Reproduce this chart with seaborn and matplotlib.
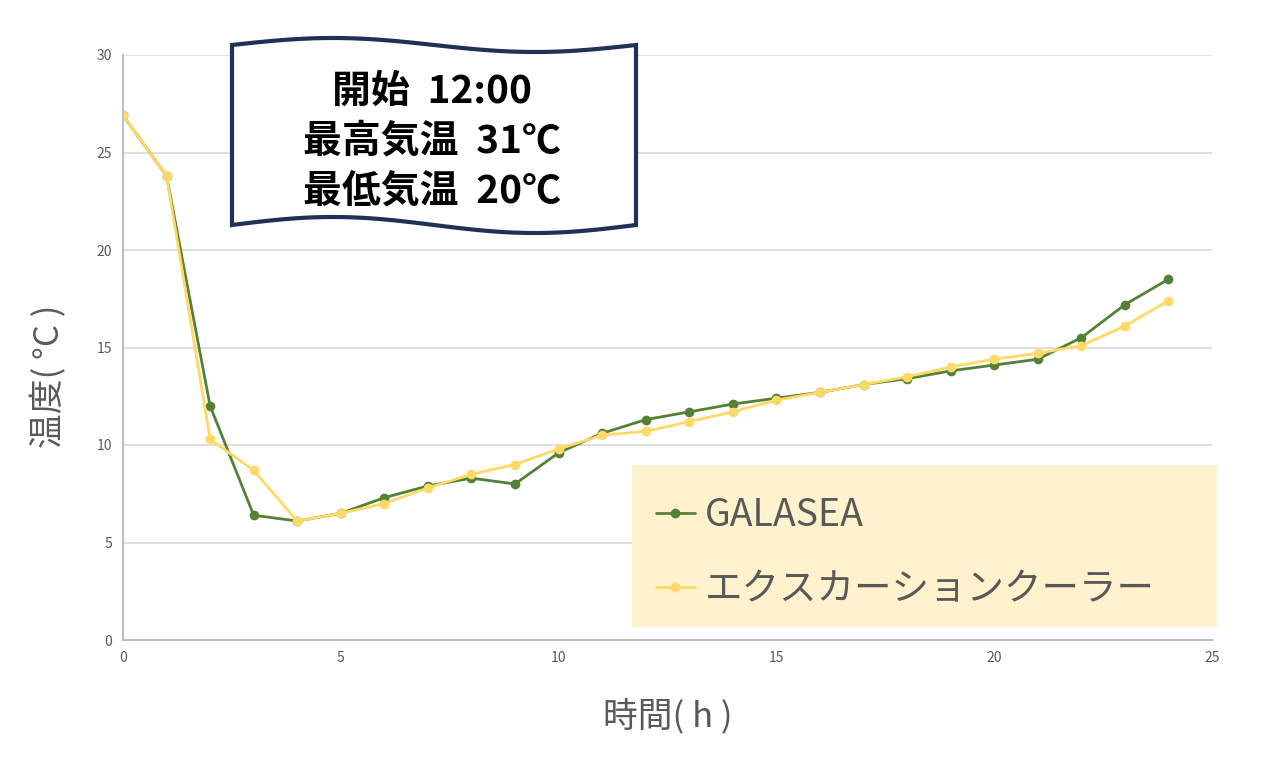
import numpy as np
import pandas as pd
import matplotlib
matplotlib.use('Agg')
import matplotlib.pyplot as plt
from matplotlib.patches import Polygon, Rectangle
import seaborn as sns

# data
hours = list(range(0, 25))
galasea = [26.9, 23.8, 12.0, 6.4, 6.1, 6.5, 7.3, 7.9, 8.3, 8.0, 9.6, 10.6, 11.3,
           11.7, 12.1, 12.4, 12.7, 13.1, 13.4, 13.8, 14.1, 14.4, 15.5, 17.2, 18.5]
cooler = [26.9, 23.8, 10.3, 8.7, 6.1, 6.5, 7.0, 7.8, 8.5, 9.0, 9.8, 10.5, 10.7,
          11.2, 11.7, 12.3, 12.7, 13.1, 13.5, 14.0, 14.4, 14.7, 15.1, 16.1, 17.4]
series_names = ['GALASEA', 'エクスカーションクーラー']
xticks = [0, 5, 10, 15, 20, 25]
yticks = [0, 5, 10, 15, 20, 25, 30]
note_lines = ['開始  12:00', '最高気温  31℃', '最低気温  20℃']

df = pd.concat([
    pd.DataFrame({'h': hours, 'temp': galasea, 'series': series_names[0]}),
    pd.DataFrame({'h': hours, 'temp': cooler, 'series': series_names[1]}),
])

sns.set_theme(style='white')
plt.rcParams['font.family'] = ['Noto Sans CJK JP', 'DejaVu Sans']

W, H = 1268, 761
fig = plt.figure(figsize=(W / 100, H / 100), dpi=100)
ax = fig.add_axes([123 / W, 1 - 640 / H, (1212 - 123) / W, (640 - 55) / H])

palette = {series_names[0]: '#548235', series_names[1]: '#FFD966'}
sns.lineplot(data=df, x='h', y='temp', hue='series', palette=palette,
             marker='o', markersize=7, markeredgewidth=0, linewidth=2,
             ax=ax, legend=False)

ax.set_xlim(0, 25)
ax.set_ylim(0, 30)
ax.set_xticks(xticks)
ax.set_yticks(yticks)
ax.tick_params(axis='both', length=0, labelsize=10, labelcolor='#595959', pad=8)
ax.yaxis.grid(True, color='#d9d9d9', linewidth=1.2)
ax.xaxis.grid(False)
for s in ['top', 'right']:
    ax.spines[s].set_visible(False)
for s in ['left', 'bottom']:
    ax.spines[s].set_color('#bfbfbf')
    ax.spines[s].set_linewidth(1.5)

ax.set_xlabel('時間( h )', fontsize=25, color='#595959', labelpad=24)
ax.set_ylabel('温度( °C )', fontsize=25, color='#595959')
ax.yaxis.set_label_coords(-0.051, 0.45)

# wavy flag annotation box (pixel coords -> figure fraction)
xs = np.linspace(232, 636, 80)
ph = 2 * np.pi * (xs - 232) / 404
top = 45 - 7 * np.sin(ph)
bot = 225 - 8 * np.sin(ph)
pts = np.concatenate([np.column_stack([xs, top]), np.column_stack([xs[::-1], bot[::-1]])])
pts_fig = np.column_stack([pts[:, 0] / W, 1 - pts[:, 1] / H])
flag = Polygon(pts_fig, closed=True, facecolor='white', edgecolor='#1f3256',
               linewidth=3, transform=fig.transFigure, zorder=5)
fig.patches.append(flag)
for i, line in enumerate(note_lines):
    fig.text(432 / W, 1 - (91 + i * 50) / H, line, ha='center', va='center',
             fontsize=28, fontweight='bold', color='black', zorder=6)

# legend box
fig.patches.append(Rectangle((632 / W, 1 - 627 / H), (1217 - 632) / W, (627 - 465) / H,
                             transform=fig.transFigure, facecolor='#FFF2CC',
                             edgecolor='none', zorder=4))
handles = [plt.Line2D([], [], color=palette[n], marker='o', markersize=7,
                      markeredgewidth=0, linewidth=2) for n in series_names]
leg = fig.legend(handles, series_names, loc='upper left',
                 bbox_to_anchor=(622 / W, 1 - 462 / H), frameon=False,
                 fontsize=27, labelcolor='#595959', handlelength=1.05,
                 handletextpad=0.25, labelspacing=0.95)
leg.set_zorder(6)

fig.savefig('out.png', dpi=100)
